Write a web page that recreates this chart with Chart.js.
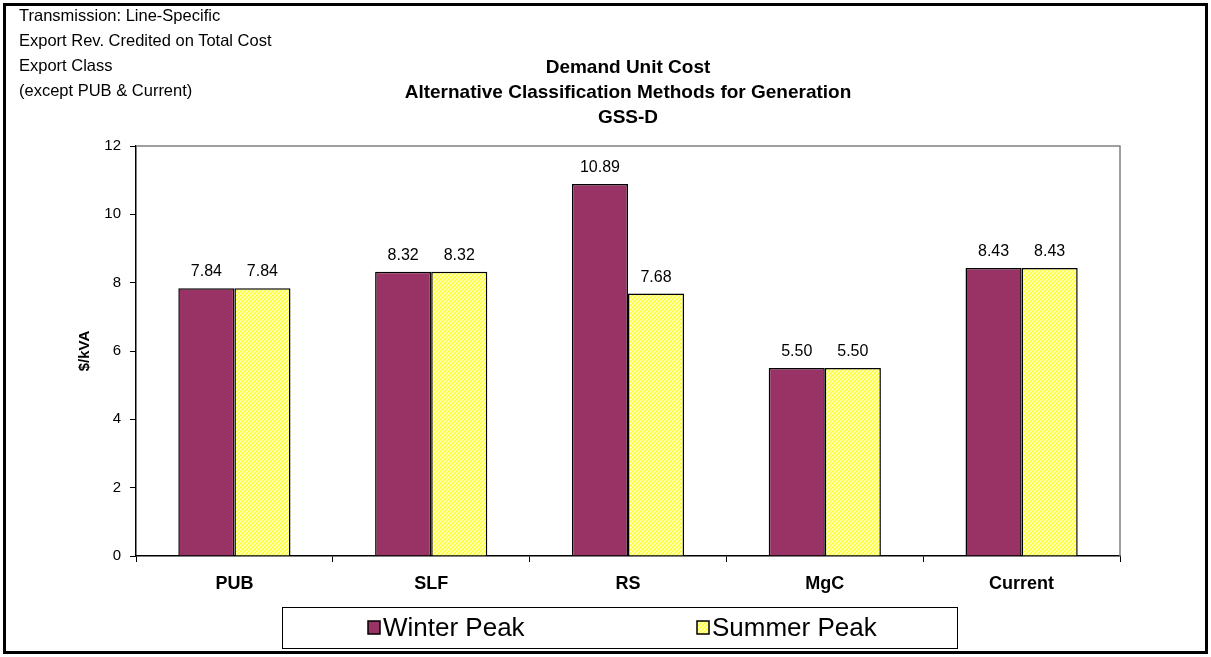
<!DOCTYPE html>
<html>
<head>
<meta charset="utf-8">
<script src="https://cdn.jsdelivr.net/npm/chart.js@4.4.1/dist/chart.umd.min.js"></script>
<style>
  body { margin: 0; background: #fff; }
  .wrap { position: relative; width: 1211px; height: 657px; overflow: hidden; background: #fff; }
  .frame { position: absolute; left: 3px; top: 3px; right: 3px; bottom: 3px; border: 3px solid #000; }
  canvas { position: absolute; left: 0; top: 0; }
  .note { position: absolute; left: 19px; top: 3px; font: 16.5px "Liberation Sans", Arial, sans-serif; line-height: 25px; color: #000; }
</style>
</head>
<body>
<div class="wrap">
  <canvas id="chart" width="1211" height="657"></canvas>
  <div class="frame"></div>
  <div class="note">Transmission: Line-Specific<br>Export Rev. Credited on Total Cost<br>Export Class<br>(except PUB &amp; Current)</div>
</div>
<script>
const categories = ['PUB', 'SLF', 'RS', 'MgC', 'Current']
const winterPeak = [7.84, 8.32, 10.89, 5.50, 8.43]
const summerPeak = [7.84, 8.32, 7.68, 5.50, 8.43]
const yTicks = [0, 2, 4, 6, 8, 10, 12]
const titleLines = ['Demand Unit Cost', 'Alternative Classification Methods for Generation', 'GSS-D']

const FONT = '"Liberation Sans", Arial, sans-serif'

function hatchPattern() {
  const c = document.createElement('canvas')
  c.width = 4
  c.height = 4
  const g = c.getContext('2d')
  g.fillStyle = '#FFFFD0'
  g.fillRect(0, 0, 4, 4)
  g.strokeStyle = '#FFFF20'
  g.lineWidth = 1.3
  g.beginPath()
  g.moveTo(0, 4)
  g.lineTo(4, 0)
  g.moveTo(-1, 1)
  g.lineTo(1, -1)
  g.moveTo(3, 5)
  g.lineTo(5, 3)
  g.stroke()
  return g.createPattern(c, 'repeat')
}

const summerFill = hatchPattern()

// title, plot frame, value labels and boxed legend
const decor = {
  id: 'decor',
  beforeDatasetsDraw(chart) {
    const {ctx, chartArea: a} = chart
    ctx.save()
    ctx.strokeStyle = '#808080'
    ctx.lineWidth = 1.5
    ctx.beginPath()
    ctx.moveTo(a.left, a.top)
    ctx.lineTo(a.right, a.top)
    ctx.lineTo(a.right, a.bottom)
    ctx.stroke()
    ctx.restore()
  },
  afterDatasetsDraw(chart) {
    const {ctx, chartArea: a} = chart
    ctx.save()
    ctx.fillStyle = '#000'
    ctx.font = `16px ${FONT}`
    ctx.textAlign = 'center'
    ctx.textBaseline = 'alphabetic'
    chart.data.datasets.forEach((ds, i) => {
      chart.getDatasetMeta(i).data.forEach((bar, j) => {
        ctx.fillText(ds.data[j].toFixed(2), bar.x, bar.y - 12)
      })
    })

    const cx = (a.left + a.right) / 2
    ctx.font = `bold 19px ${FONT}`
    ctx.textBaseline = 'middle'
    titleLines.forEach((line, i) => ctx.fillText(line, cx, 68 + i * 25))

    // legend
    const lx = 282, ly = 607, lw = 675, lh = 41
    ctx.fillStyle = '#fff'
    ctx.fillRect(lx, ly, lw, lh)
    ctx.strokeStyle = '#000'
    ctx.lineWidth = 1
    ctx.strokeRect(lx + 0.5, ly + 0.5, lw, lh)
    const itemX = [368, 697]
    ctx.font = `26px ${FONT}`
    ctx.textAlign = 'left'
    chart.data.datasets.forEach((ds, i) => {
      ctx.fillStyle = ds.backgroundColor
      ctx.fillRect(itemX[i], ly + 14, 12, 13)
      ctx.lineWidth = 1.5
      ctx.strokeRect(itemX[i], ly + 14, 12, 13)
      ctx.fillStyle = '#000'
      ctx.fillText(ds.label, itemX[i] + 15, ly + lh / 2 + 1)
    })
    ctx.restore()
  }
}

new Chart(document.getElementById('chart'), {
  type: 'bar',
  data: {
    labels: categories,
    datasets: [{
      label: 'Winter Peak',
      data: winterPeak,
      backgroundColor: '#993366',
      borderColor: '#000',
      borderWidth: 1.5
    }, {
      label: 'Summer Peak',
      data: summerPeak,
      backgroundColor: summerFill,
      borderColor: '#000',
      borderWidth: 1.5
    }]
  },
  options: {
    responsive: false,
    devicePixelRatio: 1,
    animation: false,
    datasets: {
      bar: {categoryPercentage: 0.57, barPercentage: 1}
    },
    layout: {padding: {left: 76, right: 91, top: 146, bottom: 61}},
    plugins: {
      legend: {display: false},
      title: {display: false},
      tooltip: {enabled: false}
    },
    scales: {
      x: {
        grid: {drawOnChartArea: false, drawTicks: true, tickLength: 6, color: '#000', offset: true},
        border: {color: '#000', width: 1.5},
        ticks: {color: '#000', font: {family: FONT, size: 18, weight: 'bold'}, padding: 11},
        afterFit(scale) { scale.height = 40 }
      },
      y: {
        min: 0,
        max: 12,
        afterBuildTicks(scale) { scale.ticks = yTicks.map(v => ({value: v})) },
        grid: {drawOnChartArea: false, drawTicks: true, tickLength: 6, color: '#000'},
        border: {color: '#000', width: 1.5},
        ticks: {color: '#000', font: {family: FONT, size: 15}, padding: 9},
        title: {display: true, text: '$/kVA', color: '#000', font: {family: FONT, size: 15, weight: 'bold'}, padding: 0},
        afterFit(scale) { scale.width = 60 }
      }
    }
  },
  plugins: [decor]
})
</script>
</body>
</html>
